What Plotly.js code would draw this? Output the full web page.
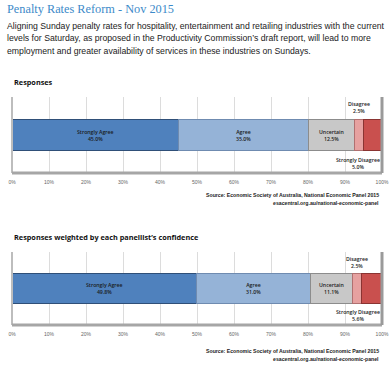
<!DOCTYPE html>
<html>
<head>
<meta charset="utf-8">
<script src="https://cdn.plot.ly/plotly-3.0.1.min.js"></script>
<style>html,body{margin:0;padding:0;background:#fff;}#chart{width:391px;height:368px;}</style>
</head>
<body>
<div id="chart"></div>
<script>
// ---- data ----
const categories = ['Strongly Agree', 'Agree', 'Uncertain', 'Disagree', 'Strongly Disagree'];
const responses = [45.0, 35.0, 12.5, 2.5, 5.0];
const weighted = [49.8, 31.0, 11.1, 2.5, 5.6];
const tickVals = [0, 10, 20, 30, 40, 50, 60, 70, 80, 90, 100];
const tickText = ['0%', '10%', '20%', '30%', '40%', '50%', '60%', '70%', '80%', '90%', '100%'];
const headerTitle = 'Penalty Rates Reform - Nov 2015';
const paragraphLines = [
  'Aligning Sunday penalty rates for hospitality, entertainment and retailing industries with the current',
  'levels for Saturday, as proposed in the Productivity Commission\u2019s draft report, will lead to more',
  'employment and greater availability of services in these industries on Sundays.'
];
const chartTitles = ['Responses', 'Responses weighted by each panellist\u2019s confidence'];
const sourceLines = ['Source: Economic Society of Australia, National Economic Panel 2015', 'esacentral.org.au/national-economic-panel'];

// ---- styles ----
const W = 391, H = 368;
const fill = ['#4F81BD', '#95B3D7', '#C8C8C8', '#E6A1A0', '#C9504E'];
const edge = ['#2F4F78', '#6F8BB0', '#8C8C8C', '#B07070', '#8A3432'];
const barWidth = 0.41;
const px = v => v / W;
const py = v => 1 - v / H;

const panels = [
  {vals: responses, xa: 'x', ya: 'y', top: 97, bottom: 173, title: chartTitles[0], titleY: 82, srcY: 195},
  {vals: weighted, xa: 'x2', ya: 'y2', top: 252, bottom: 325, title: chartTitles[1], titleY: 237, srcY: 351}
];

const traces = [];
const annotations = [];
const shapes = [];

annotations.push({xref: 'paper', yref: 'paper', x: px(5), y: py(9), xanchor: 'left', yanchor: 'middle',
  text: headerTitle, showarrow: false, font: {family: 'Liberation Serif, serif', size: 12.3, color: '#3C8AC9'}});
paragraphLines.forEach((t, i) => {
  annotations.push({xref: 'paper', yref: 'paper', x: px(5), y: py(25.5 + i * 12.6), xanchor: 'left', yanchor: 'middle',
    text: t, showarrow: false, font: {family: 'Liberation Sans, Arial, sans-serif', size: 8.7, color: '#222'}});
});

panels.forEach((p, pi) => {
  let cum = 0;
  categories.forEach((c, i) => {
    const v = p.vals[i];
    traces.push({type: 'bar', orientation: 'h', name: c, x: [v], y: [0], xaxis: p.xa, yaxis: p.ya,
      width: barWidth, marker: {color: fill[i], line: {color: edge[i], width: 1}}, hoverinfo: 'skip', showlegend: false});
    const center = cum + v / 2;
    const label = c + '<br>' + v.toFixed(1) + '%';
    const lf = {family: 'Open Sans, Liberation Sans, sans-serif', size: 5.2, color: '#1a1a1a', weight: 600};
    if (i < 3) {
      annotations.push({xref: p.xa, yref: p.ya, x: center, y: 0, text: label, showarrow: false, font: lf, align: 'center'});
    } else if (i === 3) {
      annotations.push({xref: p.xa, yref: p.ya, x: center, y: barWidth / 2, yanchor: 'bottom', yshift: 2,
        text: label, showarrow: false, font: lf, align: 'center'});
    } else {
      annotations.push({xref: p.xa, yref: p.ya, x: 100, y: -barWidth / 2, xanchor: 'right', yanchor: 'top', yshift: -3,
        text: label, showarrow: false, font: lf, align: 'center'});
    }
    cum += v;
  });
  annotations.push({xref: 'paper', yref: 'paper', x: px(12), y: py(p.titleY), xanchor: 'left', yanchor: 'middle',
    text: '<b>' + p.title + '</b>', showarrow: false, font: {family: 'Open Sans, Liberation Sans, sans-serif', size: 7.3, color: '#111'}});
  sourceLines.forEach((t, k) => {
    annotations.push({xref: 'paper', yref: 'paper', x: px(381), y: py(p.srcY + k * 8), xanchor: 'right', yanchor: 'middle',
      text: '<b>' + t + '</b>', showarrow: false, font: {family: 'Liberation Sans, Arial, sans-serif', size: 5.2, color: '#222'}});
  });
  const xd = p.xa === 'x' ? 'x domain' : 'x2 domain';
  const yd = p.ya === 'y' ? 'y domain' : 'y2 domain';
  shapes.push({type: 'line', xref: xd, yref: yd, x0: 0, x1: 0, y0: 0, y1: 1, line: {color: '#BDBDBD', width: 2}});
  shapes.push({type: 'line', xref: xd, yref: yd, x0: 0, x1: 1, y0: 0, y1: 0, line: {color: '#A6A6A6', width: 3}});
  shapes.push({type: 'line', xref: xd, yref: yd, x0: 1, x1: 1, y0: 0, y1: 1, line: {color: '#9A9A9A', width: 3}});
});

function xaxis(anchor) {
  return {domain: [px(12), px(382)], range: [0, 100], anchor: anchor, tickvals: tickVals, ticktext: tickText,
    tickfont: {family: 'Liberation Sans, Arial, sans-serif', size: 5, color: '#666'}, ticks: '', ticklabelstandoff: 5,
    showgrid: true, gridcolor: '#DCDCDC', gridwidth: 1, zeroline: false, showline: false, fixedrange: true};
}
function yaxis(p, anchor) {
  return {domain: [py(p.bottom), py(p.top)], range: [-0.5, 0.5], anchor: anchor, showticklabels: false,
    showgrid: false, zeroline: false, showline: false, fixedrange: true};
}

const layout = {
  width: W, height: H, margin: {l: 0, r: 0, t: 0, b: 0}, paper_bgcolor: '#fff', plot_bgcolor: '#fff',
  barmode: 'stack', bargap: 0, showlegend: false,
  xaxis: xaxis('y'), yaxis: yaxis(panels[0], 'x'),
  xaxis2: xaxis('y2'), yaxis2: yaxis(panels[1], 'x2'),
  annotations: annotations, shapes: shapes
};
Plotly.newPlot('chart', traces, layout, {displayModeBar: false, staticPlot: true});
</script>
</body>
</html>
